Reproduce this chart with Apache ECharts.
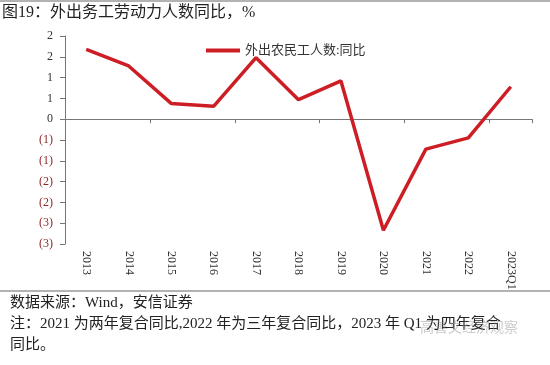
<!DOCTYPE html>
<html>
<head>
<meta charset="utf-8">
<script src="https://cdn.jsdelivr.net/npm/echarts@6/dist/echarts.min.js"></script>
<style>
  html, body { margin: 0; padding: 0; background: #fff; }
  #chart { width: 550px; height: 365px; }
</style>
</head>
<body>
<div id="chart"></div>
<script>
const categories = ['2013', '2014', '2015', '2016', '2017', '2018', '2019', '2020', '2021', '2022', '2023Q1'];
const migrantYoY = [1.68, 1.28, 0.38, 0.31, 1.48, 0.47, 0.92, -2.67, -0.72, -0.45, 0.78];
const yTickValues = [2, 1.5, 1, 0.5, 0, -0.5, -1, -1.5, -2, -2.5, -3];
const yTickLabels = ['2', '2', '1', '1', '0', '(1)', '(1)', '(2)', '(2)', '(3)', '(3)'];

const serif = '"Liberation Serif", "Noto Sans CJK SC", serif';
const cjk = '"Liberation Serif", "Noto Sans CJK SC", sans-serif';

const chart = echarts.init(document.getElementById('chart'));

chart.setOption({
  backgroundColor: '#fff',
  animation: false,
  grid: { left: 65, right: 18, top: 36, bottom: 121 },
  legend: {
    data: ['外出农民工人数:同比'],
    left: 201,
    top: 39,
    itemWidth: 34,
    itemHeight: 4,
    itemGap: 2,
    icon: 'rect',
    textStyle: { fontFamily: cjk, fontSize: 13, color: '#333' }
  },
  xAxis: [
    {
      type: 'category',
      data: categories,
      axisLine: { onZero: true, lineStyle: { color: '#777', width: 1 } },
      axisTick: { show: true, length: 4, lineStyle: { color: '#777' } },
      axisLabel: { show: false }
    },
    {
      type: 'category',
      data: categories,
      position: 'bottom',
      axisLine: { show: false, onZero: false },
      axisTick: { show: false },
      axisLabel: {
        rotate: -90,
        margin: 7,
        fontFamily: serif,
        fontSize: 12,
        color: '#333'
      }
    }
  ],
  yAxis: {
    type: 'value',
    min: -3,
    max: 2,
    interval: 0.5,
    splitLine: { show: false },
    axisLine: { show: true, lineStyle: { color: '#777' } },
    axisTick: { show: true, length: 5, lineStyle: { color: '#777' } },
    axisLabel: {
      margin: 12,
      formatter: (v) => {
        const i = yTickValues.findIndex((t) => Math.abs(t - v) < 1e-6);
        const label = i >= 0 ? yTickLabels[i] : '';
        return v < 0 ? '{neg|' + label + '}' : '{pos|' + label + '}';
      },
      rich: {
        pos: { fontFamily: serif, fontSize: 12, color: '#333' },
        neg: { fontFamily: serif, fontSize: 12, color: '#8e2a2a' }
      }
    }
  },
  series: [
    {
      name: '外出农民工人数:同比',
      type: 'line',
      data: migrantYoY,
      symbol: 'none',
      lineStyle: { color: '#cc1e24', width: 3.5 },
      itemStyle: { color: '#cc1e24' }
    }
  ],
  graphic: [
    { type: 'line', shape: { x1: 0, y1: 1, x2: 550, y2: 1 }, style: { stroke: '#666', lineWidth: 1 } },
    {
      type: 'text', left: 2, top: 5,
      style: { text: '图19：外出务工劳动力人数同比，%', font: '16px ' + cjk, fill: '#222' }
    },
    { type: 'line', shape: { x1: 0, y1: 291, x2: 550, y2: 291 }, style: { stroke: '#666', lineWidth: 1 } },
    {
      type: 'text', left: 10, top: 296,
      style: { text: '数据来源：Wind，安信证券', font: '15px ' + cjk, fill: '#222' }
    },
    {
      type: 'text', left: 10, top: 317,
      style: { text: '注：2021 为两年复合同比,2022 年为三年复合同比，2023 年 Q1 为四年复合', font: '15px ' + cjk, fill: '#222' }
    },
    {
      type: 'text', left: 10, top: 338,
      style: { text: '同比。', font: '15px ' + cjk, fill: '#222' }
    },
    {
      type: 'text', left: 420, top: 320,
      style: { text: '高善文经济观察', font: '14px "Noto Sans CJK SC", sans-serif', fill: 'rgba(150,150,150,0.5)' }
    }
  ]
});
</script>
</body>
</html>
